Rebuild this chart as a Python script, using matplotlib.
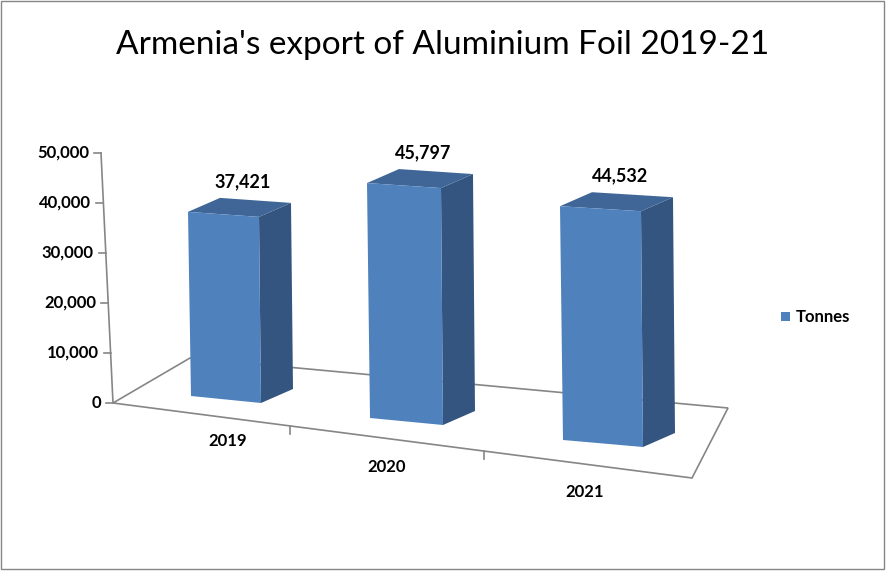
import matplotlib.pyplot as plt
from matplotlib.patches import Polygon

years = ['2019', '2020', '2021']
tonnes = [37421, 45797, 44532]
y_ticks = [0, 10000, 20000, 30000, 40000, 50000]

plt.rcParams['font.family'] = ['Lato', 'DejaVu Sans']

fig = plt.figure(figsize=(8.86, 5.71), dpi=100)
ax = fig.add_axes([0, 0, 1, 1])
ax.set_xlim(0, 886)
ax.set_ylim(571, 0)
ax.axis('off')

grey = '#868686'
front_c = '#4f81bd'
side_c = '#34557f'
top_c = '#3f6697'

# frame
ax.add_patch(Polygon([(1, 1), (884, 1), (884, 569), (1, 569)], closed=True,
                     fill=False, edgecolor=grey, lw=1))

ax.text(443, 45, "Armenia's export of Aluminium Foil 2019-21", ha='center', va='center',
        fontsize=24, color='black')

# floor and value axis (perspective plane)
floor = [(113, 403), (190, 358), (728, 408), (692, 478)]
ax.add_patch(Polygon(floor, closed=True, fill=False, edgecolor=grey, lw=1.2))
ax.plot([101, 113], [153, 403], color=grey, lw=1.2)
for v in y_ticks:
    f = v / 50000
    px, py = 113 - 12 * f, 403 - 250 * f
    ax.plot([px - 7, px], [py, py], color=grey, lw=1.2)
    ax.text(px - 12, py, f'{v:,}', ha='right', va='center', fontsize=12, fontweight='bold')
# category ticks on front edge
for t in [0.305, 0.64]:
    tx = 113 + (692 - 113) * t
    ty = 403 + (478 - 403) * t
    ax.plot([tx, tx], [ty, ty + 8], color=grey, lw=1.2)

# perspective settings per category
lefts = [191, 370, 563]
bottoms = [396, 418, 440]
widths = [70, 73, 80]
scales = [4.92 / 1000, 5.13 / 1000, 5.25 / 1000]
label_pos = [(228, 441), (387, 467), (585, 492)]
dx, dy = 32, -14

for i, val in enumerate(tonnes):
    x0, yb, w, s = lefts[i], bottoms[i], widths[i], scales[i]
    h = val * s
    bl = (x0, yb)
    br = (x0 + w, yb + 7)
    tl = (x0 - 3, yb - h)
    tr = (x0 + w - 2, yb + 5 - h)
    front = [bl, br, tr, tl]
    side = [br, (br[0] + dx, br[1] + dy), (tr[0] + dx, tr[1] + dy), tr]
    top = [tl, tr, (tr[0] + dx, tr[1] + dy), (tl[0] + dx, tl[1] + dy)]
    ax.add_patch(Polygon(side, closed=True, facecolor=side_c, edgecolor='none'))
    ax.add_patch(Polygon(top, closed=True, facecolor=top_c, edgecolor='none'))
    ax.add_patch(Polygon(front, closed=True, facecolor=front_c, edgecolor='none'))
    ax.text(tl[0] + w / 2 + 20, tl[1] - 30, f'{val:,}', ha='center', va='center',
            fontsize=13, fontweight='bold')
    ax.text(*label_pos[i], years[i], ha='center', va='center', fontsize=12, fontweight='bold')

# legend
ax.add_patch(Polygon([(781, 312), (790, 312), (790, 321), (781, 321)], closed=True,
                     facecolor=front_c, edgecolor='none'))
ax.text(796, 317, 'Tonnes', ha='left', va='center', fontsize=12, fontweight='bold')

fig.savefig('out.png', dpi=100)
